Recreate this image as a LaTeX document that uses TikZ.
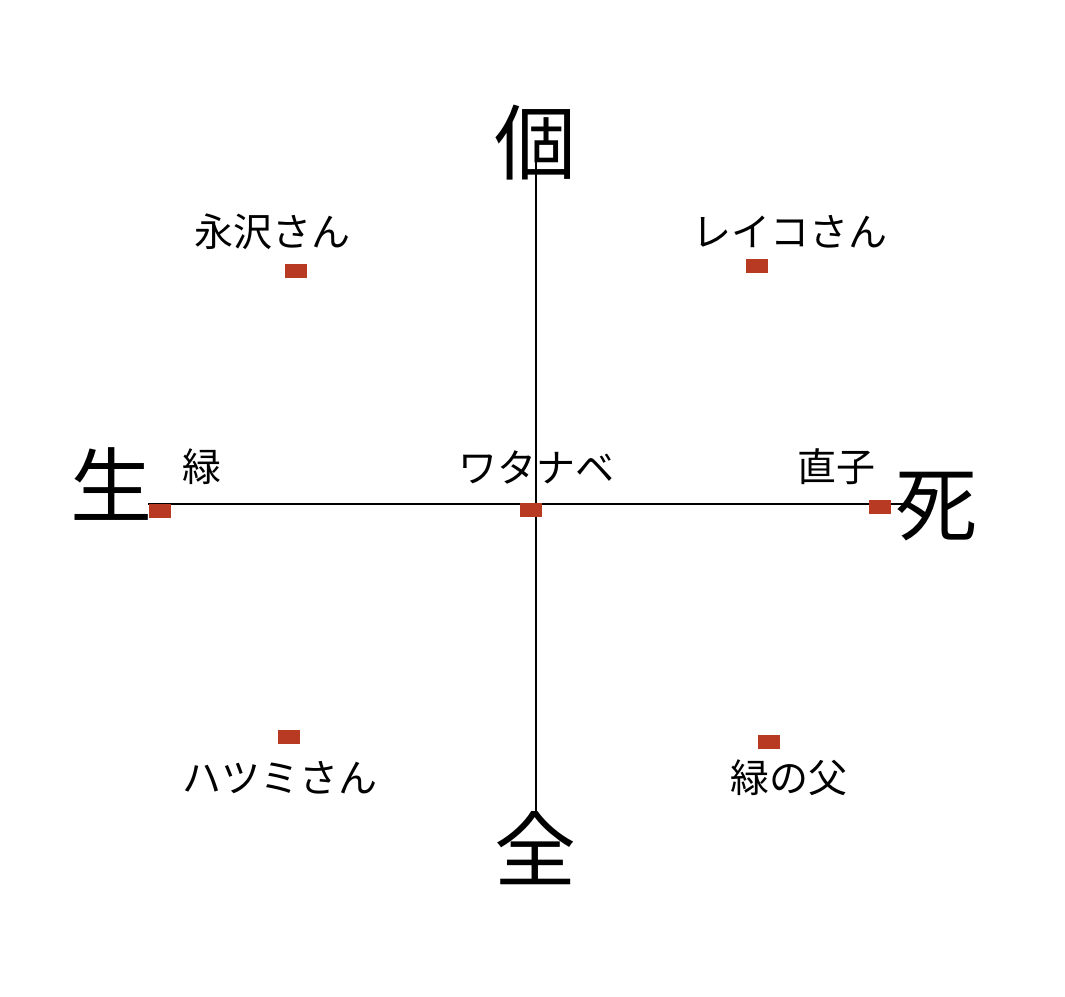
\documentclass[tikz,border=0pt]{standalone}
\usepackage{fontspec}
\setmainfont{Noto Sans CJK JP}
\begin{document}
\begin{tikzpicture}[x=1pt,y=-1pt,
  big/.style={inner sep=0pt,font=\fontsize{82}{82}\selectfont},
  lbl/.style={inner sep=0pt,font=\fontsize{39}{39}\selectfont},
  mk/.style={fill=markred,draw=none,minimum width=22pt,minimum height=14pt,inner sep=0pt},
  axis/.style={line width=1.6pt,black}]
\definecolor{markred}{HTML}{B83A22}
\useasboundingbox (0,0) rectangle (1065,996);
\fill[white] (0,0) rectangle (1065,996);
\coordinate (vt) at (536,160);
\coordinate (vb) at (536,815);
\coordinate (hl) at (148,504);
\coordinate (hr) at (905,504);
\draw[axis] (vt) -- (vb);
\draw[axis] (hl) -- (hr);
\node[big] (ko) at (535,143) {個};
\node[big] (zen) at (535,848) {全};
\node[big] (sei) at (111,484) {生};
\node[big] (shi) at (936,507) {死};
\node[mk] (m1) at (296,271) {};
\node[mk] (m2) at (757,266) {};
\node[mk] (m3) at (160,511) {};
\node[mk] (m4) at (531,510) {};
\node[mk] (m5) at (880,507) {};
\node[mk] (m6) at (289,737) {};
\node[mk] (m7) at (769,742) {};
\node[lbl] (l1) at (272,232) {永沢さん};
\node[lbl] (l2) at (790,232) {レイコさん};
\node[lbl] (l3) at (202,467) {緑};
\node[lbl] (l4) at (536,467) {ワタナベ};
\node[lbl] (l5) at (836,467) {直子};
\node[lbl] (l6) at (280,778) {ハツミさん};
\node[lbl] (l7) at (789,778) {緑の父};
\end{tikzpicture}
\end{document}
